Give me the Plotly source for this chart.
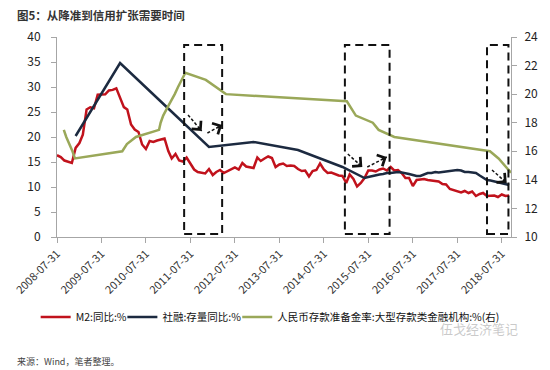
import plotly.graph_objects as go
import pandas as pd
import math

# ---------------- data ----------------
m2_dates = pd.date_range("2008-07-31", "2018-09-30", freq="ME").strftime("%Y-%m-%d").tolist()
m2_values = [
    16.35, 16.0, 15.29, 15.02, 14.8, 17.82,
    18.79, 20.48, 25.51, 25.95, 25.74, 28.46, 28.42, 28.53, 29.31, 29.42, 29.74, 27.68,
    25.98, 25.52, 22.5, 21.48, 21.0, 18.5, 17.6, 19.2, 19.0, 19.3, 19.5, 19.7,
    17.2, 15.7, 16.6, 15.3, 15.1, 15.9, 14.7, 13.5, 13.0, 12.9, 12.7, 13.6,
    12.4, 13.0, 13.4, 12.8, 13.2, 13.6, 13.9, 13.5, 14.8, 14.1, 13.9, 13.8,
    15.9, 15.2, 15.7, 16.1, 15.8, 14.0, 14.5, 14.7, 14.2, 14.3, 14.2, 13.6,
    13.2, 13.3, 12.1, 13.2, 13.4, 14.7, 13.5, 12.8, 12.9, 12.6, 12.3, 12.2,
    10.8, 12.5, 11.6, 10.1, 10.8, 11.8, 13.3, 13.3, 13.1, 13.5, 13.7, 13.3,
    14.0, 13.3, 13.4, 12.8, 11.8, 11.8, 10.2, 11.4, 11.5, 11.6, 11.4, 11.3,
    11.3, 11.1, 10.6, 10.5, 9.6, 9.4, 9.2, 8.9, 9.2, 8.8, 9.1, 8.2,
    8.6, 8.8, 8.2, 8.3, 8.3, 8.0, 8.5, 8.2, 8.3,
]

tsf_dates = [
    "2008-12-31", "2009-12-31", "2010-12-31", "2011-12-31", "2012-12-31", "2013-12-31",
    "2014-12-31", "2015-06-30", "2015-07-31", "2015-08-31", "2015-09-30", "2015-10-31",
    "2015-11-30", "2015-12-31", "2016-01-31", "2016-02-29", "2016-03-31", "2016-04-30",
    "2016-05-31", "2016-06-30", "2016-07-31", "2016-08-31", "2016-09-30", "2016-10-31",
    "2016-11-30", "2016-12-31", "2017-01-31", "2017-02-28", "2017-03-31", "2017-04-30",
    "2017-05-31", "2017-06-30", "2017-07-31", "2017-08-31", "2017-09-30", "2017-10-31",
    "2017-11-30", "2017-12-31", "2018-01-31", "2018-02-28", "2018-03-31", "2018-04-30",
    "2018-05-31", "2018-06-30", "2018-07-31", "2018-08-31", "2018-09-30",
]
tsf_values = [
    20.2, 34.8, 26.4, 18.0, 19.0, 17.4,
    14.0, 11.8, 12.0, 12.2, 12.4, 12.5,
    12.6, 12.8, 12.8, 12.9, 13.0, 12.9,
    12.8, 12.6, 12.4, 12.2, 12.2, 12.5,
    12.8, 12.8, 13.0, 12.9, 13.0, 13.0,
    13.2, 13.2, 13.4, 13.3, 13.0, 13.0,
    12.9, 12.8, 12.3, 11.9, 11.4, 11.3,
    11.1, 11.0, 10.8, 10.6, 10.4,
]

rrr_dates = [
    "2008-09-25", "2008-10-15", "2008-12-05", "2008-12-25", "2010-01-18", "2010-02-25",
    "2010-05-10", "2010-11-16", "2010-11-29", "2010-12-20", "2011-01-20", "2011-02-24",
    "2011-03-25", "2011-04-21", "2011-05-18", "2011-06-20", "2011-12-05", "2012-02-24",
    "2012-05-18", "2015-02-05", "2015-04-20", "2015-09-06", "2015-10-24", "2016-03-01",
    "2018-04-25", "2018-07-05", "2018-10-15",
]
rrr_values = [
    17.5, 17.0, 16.0, 15.5, 16.0, 16.5,
    17.0, 17.5, 18.0, 18.5, 19.0, 19.5,
    20.0, 20.5, 21.0, 21.5, 21.0, 20.5,
    20.0, 19.5, 18.5, 18.0, 17.5, 17.0,
    16.0, 15.5, 14.5,
]

tick_dates = [f"{y}-07-31" for y in range(2008, 2019)]
tick_labels = [f"{y}-07-31" for y in range(2008, 2019)]

series_names = ["M2:同比:%", "社融:存量同比:%", "人民币存款准备金率:大型存款类金融机构:%(右)"]

# highlighted periods (boxes) and dashed arrows (tail -> head, left-axis units)
box_periods = [("2011-06-10", "2012-04-17"), ("2015-01-20", "2016-01-22"), ("2018-04-01", "2018-09-24")]
arrows = [
    (("2011-07-12", 24.4), ("2011-11-01", 21.2)),
    (("2011-12-18", 20.8), ("2012-04-17", 22.4)),
    (("2015-02-13", 16.6), ("2015-06-12", 14.0)),
    (("2015-07-23", 14.0), ("2015-12-30", 16.0)),
    (("2018-05-12", 13.4), ("2018-09-10", 10.8)),
]

# ---------------- figure ----------------
RED = "#C1121C"
NAVY = "#1C2A40"
GREEN = "#9AA859"
AX = "#A6A6A6"
FONT = "Noto Sans CJK SC"

X0, X1 = pd.Timestamp("2008-07-31"), pd.Timestamp("2018-10-15")
PLOT_W, PLOT_H = 466, 200


def to_px(d, v):
    t = pd.Timestamp(d)
    px = (t - X0) / (X1 - X0) * PLOT_W
    py = v / 40 * PLOT_H
    return px, py


fig = go.Figure()
fig.add_trace(go.Scatter(x=m2_dates, y=m2_values, name=series_names[0], mode="lines",
                         line=dict(color=RED, width=2.5), legend="legend"))
fig.add_trace(go.Scatter(x=tsf_dates, y=tsf_values, name=series_names[1], mode="lines",
                         line=dict(color=NAVY, width=2.5), legend="legend2"))
fig.add_trace(go.Scatter(x=rrr_dates, y=rrr_values, name=series_names[2], mode="lines",
                         line=dict(color=GREEN, width=2.5), yaxis="y2", legend="legend3"))

shapes = []
for x0, x1 in box_periods:
    shapes.append(dict(type="rect", xref="x", yref="paper", x0=x0, x1=x1, y0=0.015, y1=0.96,
                       line=dict(color="#111111", width=2, dash="8px,5px"),
                       fillcolor="rgba(0,0,0,0)", layer="above"))
annotations = []
for (xa, ya), (xb, yb) in arrows:
    shapes.append(dict(type="line", xref="x", yref="y", x0=xa, y0=ya, x1=xb, y1=yb,
                       line=dict(color="#111111", width=1.5, dash="3px,2px")))
    pa, pb = to_px(xa, ya), to_px(xb, yb)
    dx, dy = pb[0] - pa[0], pb[1] - pa[1]
    n = math.hypot(dx, dy)
    annotations.append(dict(x=xb, y=yb, xref="x", yref="y",
                            ax=-dx / n * 7, ay=dy / n * 7,
                            showarrow=True, arrowhead=4, arrowsize=1.6, arrowwidth=1.5,
                            arrowcolor="#111111", text=""))

annotations += [
    dict(text="<b>图5：从降准到信用扩张需要时间</b>", xref="paper", yref="paper",
         x=-0.093, y=1.11, xanchor="left", yanchor="middle", showarrow=False,
         font=dict(family=FONT, size=11.5, color="#333333")),
    dict(text="来源：Wind，笔者整理。", xref="paper", yref="paper",
         x=-0.093, y=-0.62, xanchor="left", yanchor="middle", showarrow=False,
         font=dict(family=FONT, size=9, color="#444444")),
    dict(text="伍戈经济笔记", xref="paper", yref="paper",
         x=1.019, y=-0.455, xanchor="right", yanchor="middle", showarrow=False,
         font=dict(family=FONT, size=13, color="rgba(150,150,150,0.5)")),
]

leg_common = dict(orientation="h", xanchor="left", y=-0.40, yanchor="middle",
                  font=dict(family=FONT, size=10.5, color="#111111"),
                  itemwidth=30, bgcolor="rgba(0,0,0,0)")

fig.update_layout(
    width=550, height=370,
    margin=dict(l=53, r=31, t=37, b=133),
    paper_bgcolor="white", plot_bgcolor="white",
    font=dict(family=FONT, color="#222222"),
    showlegend=True,
    legend=dict(x=-0.047, **leg_common),
    legend2=dict(x=0.144, **leg_common),
    legend3=dict(x=0.397, **leg_common),
    xaxis=dict(type="date", range=["2008-07-31", "2018-10-15"],
               tickvals=tick_dates, ticktext=tick_labels, tickangle=-45,
               ticks="outside", ticklen=5, tickcolor=AX, showline=True, linecolor=AX,
               linewidth=1, showgrid=False, zeroline=False,
               tickfont=dict(family=FONT, size=11, color="#333333")),
    yaxis=dict(range=[0, 40], dtick=5, ticks="outside", ticklen=5, tickcolor=AX,
               showline=True, linecolor=AX, showgrid=False, zeroline=False,
               ticklabelstandoff=8,
               tickfont=dict(family=FONT, size=12, color="#222222")),
    yaxis2=dict(range=[10, 24], dtick=2, overlaying="y", side="right", ticks="outside",
                ticklen=5, tickcolor=AX, showline=True, linecolor=AX, showgrid=False,
                zeroline=False, ticklabelstandoff=5,
                tickfont=dict(family=FONT, size=12, color="#222222")),
    shapes=shapes,
    annotations=annotations,
)

fig.write_html("out.html", config={"displayModeBar": False},
               post_script="document.body.style.margin='0';")
